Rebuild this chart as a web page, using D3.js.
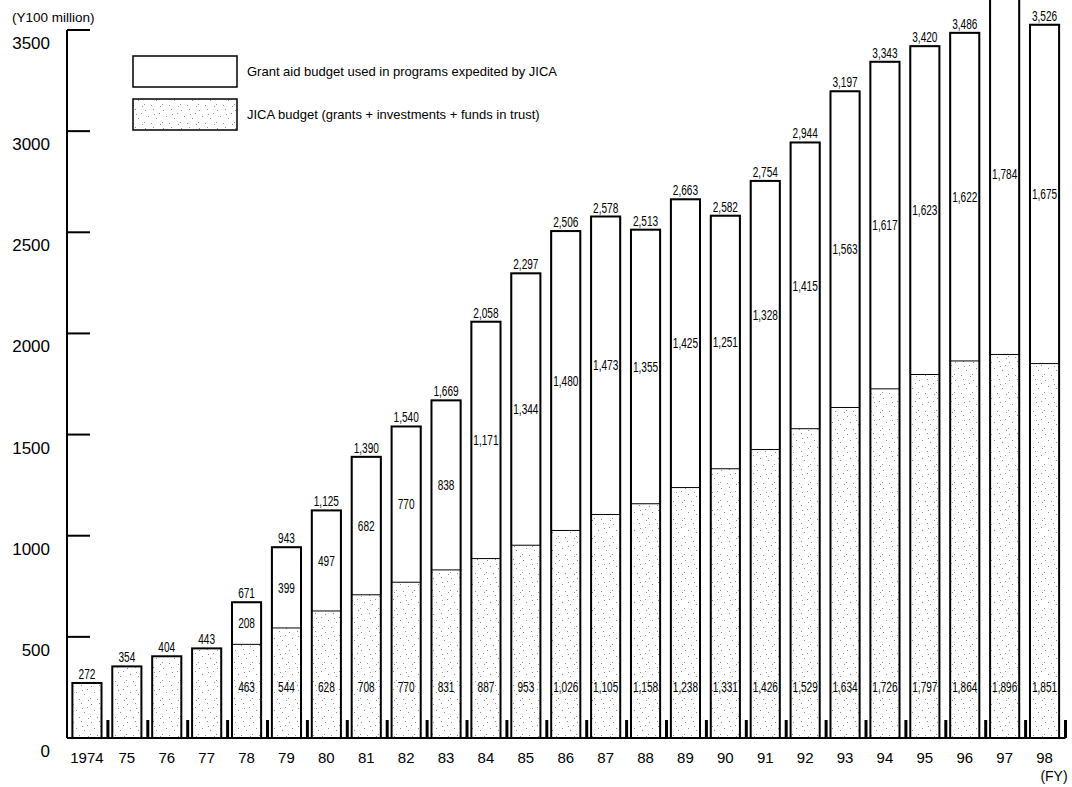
<!DOCTYPE html>
<html><head><meta charset="utf-8">
<script src="https://cdn.jsdelivr.net/npm/d3@7"></script>
<style>
html,body{margin:0;padding:0;background:#fff;}
svg{display:block;}
</style></head>
<body>
<script>
const years = ["1974","75","76","77","78","79","80","81","82","83","84","85","86","87","88","89","90","91","92","93","94","95","96","97","98"];
const jicaBudget = [272,354,404,443,463,544,628,708,770,831,887,953,1026,1105,1158,1238,1331,1426,1529,1634,1726,1797,1864,1896,1851];
const grantAid = [0,0,0,0,208,399,497,682,770,838,1171,1344,1480,1473,1355,1425,1251,1328,1415,1563,1617,1623,1622,1784,1675];
const totals = [272,354,404,443,671,943,1125,1390,1540,1669,2058,2297,2506,2578,2513,2663,2582,2754,2944,3197,3343,3420,3486,3680,3526];
const yTicks = [0,500,1000,1500,2000,2500,3000,3500];
const legendLabels = ["Grant aid budget used in programs expedited by JICA","JICA budget (grants + investments + funds in trust)"];

const W = 1072, H = 787;
const svg = d3.select("body").append("svg").attr("width", W).attr("height", H);

// stipple pattern
const defs = svg.append("defs");
const pat = defs.append("pattern").attr("id","stip").attr("patternUnits","userSpaceOnUse")
  .attr("width",18).attr("height",18);
pat.append("rect").attr("width",18).attr("height",18).attr("fill","#fff");
const dots = [[1,2],[9,1],[15,5],[4,8],[12,10],[0,14],[7,15],[16,16],[10,6]];
dots.forEach(([dx,dy])=>pat.append("rect").attr("x",dx).attr("y",dy).attr("width",1).attr("height",1).attr("fill","#909090"));

const x0 = 67, x1 = 1064.5, yBase = 738, yTop = 30;
const x = d3.scaleBand().domain(years).range([x0, x1]).paddingInner(0.27).paddingOuter(0.135);
const y = d3.scaleLinear().domain([0,3500]).range([yBase, yTop]);

const sans = "'Liberation Sans',Arial,Helvetica,sans-serif";
const fmt = d3.format(",");
const narrowText = (sel, fx, fy) => sel
  .attr("transform", i => `translate(${fx(i)},${fy(i)}) scale(0.72,1)`)
  .attr("text-anchor","middle").attr("font-family",sans).attr("font-size",14).attr("fill","#000");

// axis line
svg.append("line").attr("x1",x0).attr("x2",x0).attr("y1",y(3500)).attr("y2",yBase)
  .attr("stroke","#000").attr("stroke-width",2);
// baseline
svg.append("line").attr("x1",x0).attr("x2",x1+1).attr("y1",yBase).attr("y2",yBase)
  .attr("stroke","#000").attr("stroke-width",2);
// y ticks
svg.selectAll(".yt").data(yTicks.filter(d=>d>0)).enter().append("line")
  .attr("x1",x0).attr("x2",x0+23).attr("y1",d=>y(d)).attr("y2",d=>y(d))
  .attr("stroke","#000").attr("stroke-width",2);
svg.selectAll(".yl").data(yTicks).enter().append("text")
  .attr("x",50).attr("y",d=>y(d)+19).attr("text-anchor","end")
  .attr("font-family",sans).attr("font-size",17).attr("fill","#000")
  .text(d=>d);
svg.append("text").attr("x",12).attr("y",22).attr("font-family",sans).attr("font-size",13.5)
  .text("(Y100 million)");

const idx = years.map((d,i)=>i);
// JICA segments
svg.selectAll(".jb").data(idx).enter().append("rect")
  .attr("x",i=>x(years[i])).attr("width",x.bandwidth())
  .attr("y",i=>y(jicaBudget[i])).attr("height",i=>yBase-y(jicaBudget[i]))
  .attr("fill","url(#stip)").attr("stroke","none");
// grant segments
svg.selectAll(".gb").data(idx.filter(i=>grantAid[i]>0)).enter().append("rect")
  .attr("x",i=>x(years[i])).attr("width",x.bandwidth())
  .attr("y",i=>y(jicaBudget[i]+grantAid[i])).attr("height",i=>y(jicaBudget[i])-y(jicaBudget[i]+grantAid[i]))
  .attr("fill","#fff").attr("stroke","#000").attr("stroke-width",1);
// outline of full bar
svg.selectAll(".ob").data(idx).enter().append("rect")
  .attr("x",i=>x(years[i])).attr("width",x.bandwidth())
  .attr("y",i=>y(totals[i])).attr("height",i=>yBase-y(totals[i]))
  .attr("fill","none").attr("stroke","#000").attr("stroke-width",2);

// separator marks at baseline
svg.selectAll(".sep").data(idx).enter().append("line")
  .attr("x1",i=>x(years[i])+x.step()-x.step()*x.paddingOuter()+1)
  .attr("x2",i=>x(years[i])+x.step()-x.step()*x.paddingOuter()+1)
  .attr("y1",yBase-18).attr("y2",yBase)
  .attr("stroke","#000").attr("stroke-width",3);

// total labels (only those that fall inside the picture)
narrowText(svg.selectAll(".tl").data(idx.filter(i=>y(totals[i])-4>12)).enter().append("text"),
  i=>x(years[i])+x.bandwidth()/2, i=>y(totals[i])-4)
  .text(i=>fmt(totals[i]));
// JICA labels
narrowText(svg.selectAll(".jl").data(idx.filter(i=>grantAid[i]>0)).enter().append("text"),
  i=>x(years[i])+x.bandwidth()/2, i=>692)
  .text(i=>fmt(jicaBudget[i]));
// grant labels
narrowText(svg.selectAll(".gl").data(idx.filter(i=>grantAid[i]>0)).enter().append("text"),
  i=>x(years[i])+x.bandwidth()/2, i=>(y(jicaBudget[i])+y(totals[i]))/2+5)
  .text(i=>fmt(grantAid[i]));

// x labels
svg.selectAll(".xl").data(years).enter().append("text")
  .attr("x",d=>x(d)+x.bandwidth()/2).attr("y",763)
  .attr("text-anchor","middle").attr("font-family",sans).attr("font-size",15)
  .text(d=>d);
svg.append("text").attr("x",1054).attr("y",781).attr("text-anchor","middle")
  .attr("font-family",sans).attr("font-size",14).text("(FY)");

// legend
const lg = svg.append("g");
[0,1].forEach(k=>{
  const ly = 56 + k*43;
  lg.append("rect").attr("x",133).attr("y",ly).attr("width",104).attr("height",31)
    .attr("fill",k===0?"#fff":"url(#stip)").attr("stroke","#000").attr("stroke-width",1.5);
  lg.append("text").attr("x",247).attr("y",ly+20).attr("font-family",sans).attr("font-size",13)
    .text(legendLabels[k]);
});
</script>
</body></html>
